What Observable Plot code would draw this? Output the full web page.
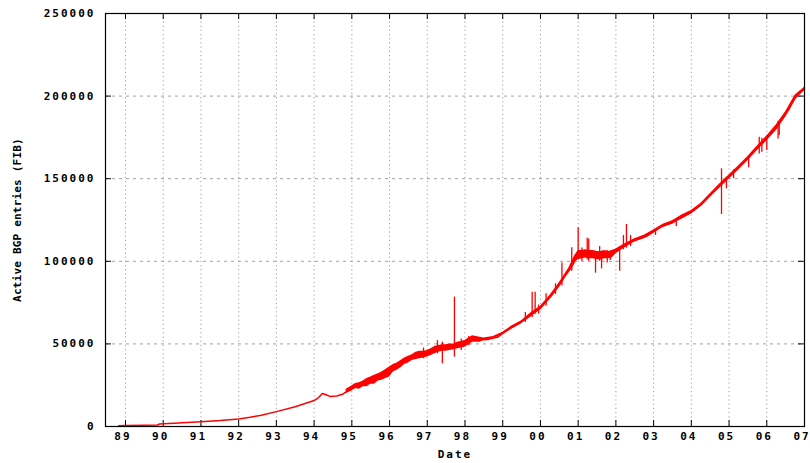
<!DOCTYPE html>
<html>
<head>
<meta charset="utf-8">
<script src="https://cdn.jsdelivr.net/npm/d3@7"></script>
<script src="https://cdn.jsdelivr.net/npm/@observablehq/plot@0.6"></script>
<style>
  html, body { margin: 0; padding: 0; background: #fff; }
  #chart { width: 810px; height: 463px; }
  g[aria-label="y-axis label"] text { letter-spacing: 0.2px; }
</style>
</head>
<body>
<div id="chart"></div>
<script>
// ---- Data ----
const xTicks = [1989,1990,1991,1992,1993,1994,1995,1996,1997,1998,1999,2000,2001,2002,2003,2004,2005,2006,2007];
const xTickLabels = ["89","90","91","92","93","94","95","96","97","98","99","00","01","02","03","04","05","06","07"];
const yTicks = [0, 50000, 100000, 150000, 200000, 250000];
const yGrid = [50000, 100000, 150000, 200000];
const xTitle = "Date";
const yTitle = "Active BGP entries (FIB)";

// main trend: [year, active BGP entries]
const trendYears = [1988.82,1989.0,1989.5,1989.85,1989.9,1990.0,1990.3,1990.5,1991.0,1991.5,1992.0,1992.3,1992.6,1993.0,1993.5,1993.8,1994.0,1994.12,1994.22,1994.3,1994.42,1994.6,1994.75,1994.85,1995.0,1995.2,1995.4,1995.6,1995.8,1996.0,1996.2,1996.47,1996.7,1997.0,1997.2,1997.35,1997.5,1997.7,1997.85,1998.0,1998.12,1998.23,1998.4,1998.6,1998.75,1998.86,1999.0,1999.2,1999.47,1999.7,1999.9,2000.0,2000.15,2000.27,2000.4,2000.53,2000.65,2000.8,2000.92,2001.0,2001.2,2001.4,2001.6,2001.8,2001.95,2002.05,2002.2,2002.35,2002.55,2002.8,2003.0,2003.2,2003.5,2003.8,2004.0,2004.25,2004.5,2004.75,2005.0,2005.25,2005.5,2005.75,2006.0,2006.27,2006.45,2006.6,2006.8,2007.0];
const trendValues = [500,600,700,900,1500,1600,2000,2300,2900,3600,4600,5600,6800,9000,12000,14200,15700,17500,20000,19400,18200,18500,19500,21000,23000,24800,26000,28500,31000,34000,36500,40000,42500,43600,45500,47200,47500,48400,49000,49600,51500,53300,52500,52700,53500,54000,56300,59500,62800,66500,70000,71500,75500,78500,82500,86500,91000,95600,100500,103500,104500,104000,103500,103500,104700,107500,109500,111500,113000,115000,118000,121000,123500,127000,129700,134000,139800,145500,151000,156500,162200,168500,174300,181200,187200,192500,201000,204300];

// noisy envelope (thick parts of the line): [year, low, high]
const bandYears = [1994.85,1995.0,1995.1,1995.2,1995.3,1995.4,1995.5,1995.6,1995.7,1995.8,1995.9,1996.0,1996.1,1996.2,1996.3,1996.4,1996.5,1996.6,1996.7,1996.8,1996.9,1997.0,1997.1,1997.2,1997.3,1997.4,1997.5,1997.6,1997.7,1997.8,1997.9,1998.0,1998.1,1998.2,1998.3,1998.4,1998.5,1998.75,1999.0,1999.25,1999.5,1999.75,2000.0,2000.25,2000.5,2000.75,2000.9,2001.0,2001.1,2001.2,2001.3,2001.4,2001.5,2001.6,2001.7,2001.8,2001.9,2002.0,2002.25,2002.5,2002.75,2003.0,2003.25,2003.5,2003.75,2004.0,2004.25,2004.5,2004.75,2005.0,2005.25,2005.5,2005.75,2006.0,2006.25,2006.5,2006.75,2007.0];
const bandLow  = [20000,21500,23000,22500,24000,24000,25500,25500,27500,28000,29000,30000,33000,34000,35500,37500,38500,40000,40500,41000,41500,42000,43000,44000,45000,45500,45500,46000,46500,47000,47500,48000,49500,51000,51000,51000,52000,53000,55500,59000,62300,66800,70800,77300,84800,93300,99500,101000,101500,102000,101500,101500,101000,101000,101500,101500,102000,104500,108300,111700,113800,117000,120500,122500,126000,128700,133000,138700,144400,149800,155300,161000,167200,172800,179200,187500,197500,203300];
const bandHigh = [22500,24500,26000,26500,27500,29000,30000,31000,32000,33000,34500,36000,37500,38500,40000,41500,42500,43500,45000,45500,45500,46000,47000,48500,49000,49500,49500,50000,50000,51000,51500,52000,53500,55000,54500,54000,53500,54500,57000,61000,64000,68800,72800,79300,87000,95800,103000,106500,106500,107000,106500,106500,106000,106000,106500,106000,106500,107500,110700,113700,115800,119000,122500,124500,128000,130700,135000,140900,146800,152200,157700,163500,169800,175800,182500,190500,200500,205300];

// spikes (outages / leaks): [year, low, high]
const spikeYears = [1996.9,1997.27,1997.4,1997.72,1997.9,1998.1,1999.6,1999.78,1999.86,1999.95,2000.15,2000.4,2000.57,2000.83,2001.0,2001.1,2001.24,2001.28,2001.46,2001.57,2001.62,2001.77,2001.85,2002.1,2002.2,2002.28,2002.39,2003.05,2003.6,2004.8,2004.93,2005.12,2005.52,2005.8,2005.87,2006.0,2006.3,2006.33];
const spikeLow  = [41000,44000,38000,42000,46000,49000,63000,66000,68000,68000,73000,80000,85000,94000,101000,100000,101000,100000,92800,100000,95400,98900,100500,94000,107000,108000,109000,115600,121000,128300,143900,150000,156600,165000,166000,167000,174100,176100];
const spikeHigh = [47500,52000,51000,78300,53000,54500,69000,81300,81300,73500,80300,86400,98900,108200,120300,108000,114000,113500,106000,109000,106000,106500,106000,108000,115600,122300,115600,118000,124500,156000,150500,155400,163000,175100,174500,175000,184800,183000];

// ---- Build tables ----
const trend = trendYears.map((x, i) => ({x, y: trendValues[i]}));
const band = bandYears.map((x, i) => ({x, lo: bandLow[i], hi: bandHigh[i]}));
const spikes = spikeYears.map((x, i) => ({x, lo: spikeLow[i], hi: spikeHigh[i]}));
const xLabels = xTicks.map((x, i) => ({x, label: xTickLabels[i]}));

const W = 810, H = 463, mL = 105, mR = 6, mT = 13, mB = 37;
const plotW = W - mL - mR, plotH = H - mT - mB;
const red = "#ff0000";
const gridColor = "#a0a0a0";
const font = "'DejaVu Sans Mono', monospace";

const chart = Plot.plot({
  width: W,
  height: H,
  marginLeft: mL,
  marginRight: mR,
  marginTop: mT,
  marginBottom: mB,
  style: {
    fontFamily: font,
    fontWeight: "bold",
    fontSize: "11px",
    letterSpacing: "2px",
    color: "#000",
    background: "#fff"
  },
  x: {
    domain: [1988.47, 2007],
    axis: null
  },
  y: {
    domain: [0, 250000],
    ticks: yTicks,
    tickFormat: (d) => String(d),
    tickSize: 0,
    tickPadding: 10,
    label: yTitle,
    labelAnchor: "center",
    labelOffset: 92,
    labelArrow: "none"
  },
  marks: [
    Plot.ruleX(xTicks, {x: d => d, stroke: gridColor, strokeDasharray: "1.2,3", strokeWidth: 1}),
    Plot.ruleY(yGrid, {y: d => d, stroke: gridColor, strokeDasharray: "3,4", strokeWidth: 1}),
    // inward ticks: bottom, top, left, right
    Plot.tickX(xTicks, {x: d => d, stroke: "#000", insetTop: plotH - 6}),
    Plot.tickX(xTicks, {x: d => d, stroke: "#000", insetBottom: plotH - 6}),
    Plot.tickY(yTicks, {y: d => d, stroke: "#000", insetRight: plotW - 6}),
    Plot.tickY(yTicks, {y: d => d, stroke: "#000", insetLeft: plotW - 6}),
    Plot.areaY(band, {x: "x", y1: "lo", y2: "hi", fill: red, curve: "linear"}),
    Plot.ruleX(spikes, {x: "x", y1: "lo", y2: "hi", stroke: red, strokeWidth: 1.3}),
    Plot.line(trend, {x: "x", y: "y", stroke: red, strokeWidth: 1.5}),
    Plot.frame({stroke: "#000", strokeWidth: 1.2}),
    // x tick labels and title
    Plot.text(xLabels, {x: "x", text: "label", frameAnchor: "bottom", dy: 13, dx: -2.5, fill: "#000", style: {letterSpacing: "1.5px"}}),
    Plot.text([xTitle], {text: d => d, frameAnchor: "bottom", dy: 31, fill: "#000"})
  ]
});

document.getElementById("chart").appendChild(chart);
</script>
</body>
</html>
